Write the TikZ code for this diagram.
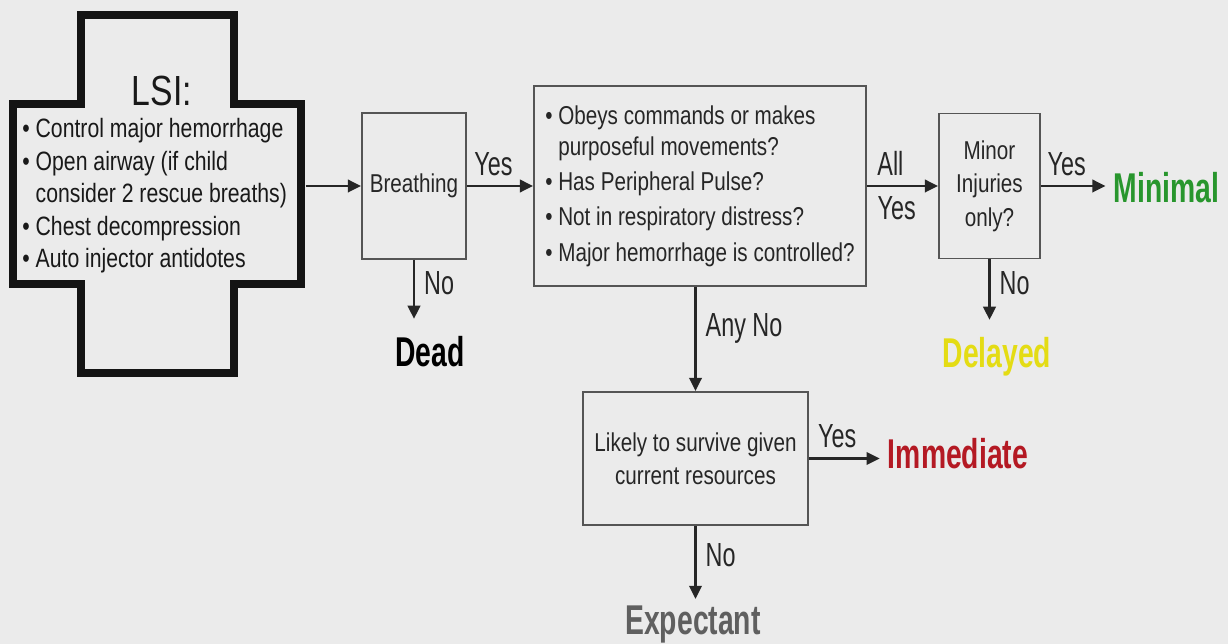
\documentclass[tikz,border=0pt]{standalone}
\usepackage{fontspec}
\setmainfont[FakeStretch=0.8]{Liberation Sans}
\newfontfamily\labfont[FakeStretch=0.7]{Liberation Sans}
\newfontfamily\outfont[FakeStretch=0.68]{Liberation Sans}
\usepackage{tikz}
\usetikzlibrary{arrows.meta}
\definecolor{bg}{RGB}{235,235,235}
\definecolor{boxline}{RGB}{85,85,85}
\definecolor{minimalc}{RGB}{40,150,45}
\definecolor{delayedc}{RGB}{228,220,20}
\definecolor{immedc}{RGB}{180,25,35}
\definecolor{expectc}{RGB}{95,95,95}
\begin{document}
\begin{tikzpicture}[
    x=0.02cm,y=-0.02cm,
    >={Triangle[length=7.5pt,width=7pt]},
    box/.style={draw=boxline,fill=bg,line width=1.1pt,align=center,inner sep=0pt,text=black!85,font=\fontsize{14.7}{17.6}\selectfont},
    arr/.style={->,line width=1.6pt,black!85},
    lab/.style={font=\labfont\fontsize{19}{21}\selectfont,inner sep=5pt,text=black!85},
    outc/.style={font=\outfont\bfseries\fontsize{23.7}{26}\selectfont,anchor=base,inner xsep=4.5pt,inner ysep=10pt},
    cross/.style={draw=black!92,fill=bg,line width=5.1pt}
]
\useasboundingbox (0,0) rectangle (1228,644);
\fill[bg] (0,0) rectangle (1228,644);

\draw[cross] (81,15) -- (234,15) -- (234,104) -- (301,104) -- (301,284) -- (234,284)
  -- (234,373) -- (81,373) -- (81,284) -- (13,284) -- (13,104) -- (81,104) -- cycle;
\node[font=\fontsize{24}{26}\selectfont,text=black!90] (lsititle) at (162,91) {LSI:};
\node[anchor=west,align=left,inner sep=0pt,text=black!90,font=\fontsize{15.1}{18.5}\selectfont] (lsilist) at (22,196)
  {\textbullet\ Control major hemorrhage\\
   \textbullet\ Open airway (if child\\
   \phantom{\textbullet\ }consider 2 rescue breaths)\\
   \textbullet\ Chest decompression\\
   \textbullet\ Auto injector antidotes};
\coordinate (lsiE) at (305.5,186);

\node[box,minimum width=2.08cm,minimum height=2.92cm] (breath) at (414,186) {Breathing};
\node[box,align=left,minimum width=6.64cm,minimum height=4cm] (main) at (700,186)
  {\textbullet\ Obeys commands or makes\\
   \phantom{\textbullet\ }purposeful movements?\\[2.5pt]
   \textbullet\ Has Peripheral Pulse?\\[2.5pt]
   \textbullet\ Not in respiratory distress?\\[2.5pt]
   \textbullet\ Major hemorrhage is controlled?};
\node[box,minimum width=2.02cm,minimum height=2.9cm,font=\fontsize{14.7}{19}\selectfont] (minor) at (989.5,186) {Minor\\Injuries\\only?};
\node[box,minimum width=4.5cm,minimum height=2.66cm,font=\fontsize{14.7}{18.8}\selectfont] (likely) at (695.5,458.5) {Likely to survive given\\current resources};

\node[outc,text=black] (dead) at (430,367) {Dead};
\node[outc,text=delayedc] (delayed) at (997,368) {Delayed};
\node[outc,text=minimalc] (minimal) at (1166.5,203) {Minimal};
\node[outc,text=immedc] (immed) at (958,469) {Immediate};
\node[outc,text=expectc,inner ysep=4pt] (expect) at (693,635) {Expectant};

\draw[arr] (lsiE) -- (breath.west);
\draw[arr] (breath.east) -- node[lab,above,pos=.4] {Yes} (main.west);
\draw[arr] (breath.south) -- node[lab,right,pos=.4] {No} (breath.south |- dead.north);
\draw[arr] (main.east) -- node[lab,above,pos=.33] {All} node[lab,below,pos=.42] {Yes} (minor.west);
\draw[arr] (minor.east) -- node[lab,above,pos=.4] {Yes} (minor.east -| minimal.west);
\draw[arr] (minor.south) -- node[lab,right,pos=.4] {No} (minor.south |- delayed.north);
\draw[arr] (main.south -| likely.north) -- node[lab,right,pos=.4] {Any No} (likely.north);
\draw[arr] (likely.east) -- node[lab,above,pos=.4] {Yes} (likely.east -| immed.west);
\draw[arr] (likely.south) -- node[lab,right,pos=.4] {No} (likely.south |- expect.north);
\end{tikzpicture}
\end{document}
